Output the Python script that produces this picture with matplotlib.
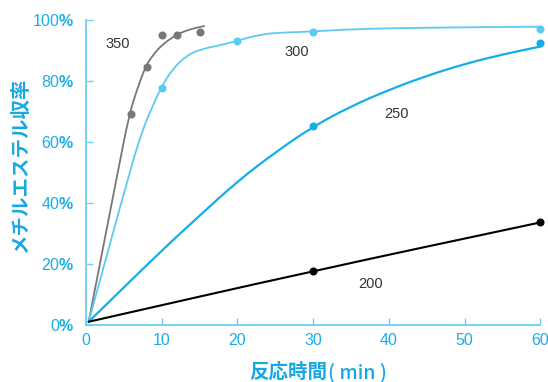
import matplotlib.pyplot as plt
from matplotlib.path import Path
from matplotlib.patches import PathPatch

plt.rcParams['mathtext.fontset'] = 'custom'
plt.rcParams['mathtext.rm'] = 'Liberation Sans'
plt.rcParams['mathtext.bf'] = 'Liberation Sans:bold'

# measured points (reaction time [min], yield [%])
pts350_x = [6, 8, 10, 12, 15]
pts350_y = [69, 84.5, 95, 95, 96]
pts300_x = [10, 20, 30, 60]
pts300_y = [77.7, 93, 96, 96.8]
pts250_x = [30, 60]
pts250_y = [65, 92.3]
pts200_x = [30, 60]
pts200_y = [17.6, 33.5]

# trend curves, control points
c350_x = [0.35, 4.26, 5.72, 6.8, 7.83, 8.8, 10.1, 11.9, 13.6, 15.6]
c350_y = [0.9, 50.8, 69.1, 77.5, 84.5, 88.3, 91.9, 95.0, 96.8, 97.9]
c300_x = [0.35, 5.85, 7.48, 8.8, 9.9, 11.4, 13.2, 15.0, 17.5, 19.9, 23.0, 26, 30, 35, 45, 60]
c300_y = [0.9, 50.8, 64.0, 71.6, 77.7, 83.7, 88.1, 90.2, 91.5, 93.0, 95.2, 95.8, 96.1, 96.9, 97.4, 97.7]
c250_x = [0.35, 10, 15, 20, 25, 30, 35, 40, 45, 50, 55, 60]
c250_y = [0.9, 24.3, 35.7, 47, 56.5, 65, 71.6, 77, 81.6, 85.5, 88.6, 91.2]
c200_x = [0.35, 30, 60]
c200_y = [0.9, 17.6, 33.5]

xticks = [0, 10, 20, 30, 40, 50, 60]
yticks = [0, 20, 40, 60, 80, 100]

AXIS = '#6dcff6'
TICK = '#1aaee8'
LABEL = '#16a8e4'


def smooth_path(xs, ys):
    # quadratic bezier through the midpoints, corners rounded at the control points
    pts = list(zip(xs, ys))
    mid = lambda a, b: ((a[0] + b[0]) / 2, (a[1] + b[1]) / 2)
    verts = [pts[0], mid(pts[0], pts[1])]
    codes = [Path.MOVETO, Path.LINETO]
    for i in range(1, len(pts) - 1):
        verts += [pts[i], mid(pts[i], pts[i + 1])]
        codes += [Path.CURVE3, Path.CURVE3]
    verts.append(pts[-1])
    codes.append(Path.LINETO)
    return Path(verts, codes)


fig = plt.figure(figsize=(5.48, 3.82), dpi=100)
ax = fig.add_axes([0.1569, 0.1505, 0.8294, 0.798])

series = [
    (c350_x, c350_y, pts350_x, pts350_y, '#777777', 1.3),
    (c300_x, c300_y, pts300_x, pts300_y, '#5ccbf3', 1.3),
    (c250_x, c250_y, pts250_x, pts250_y, '#14aee9', 1.6),
    (c200_x, c200_y, pts200_x, pts200_y, '#000000', 1.5),
]
for cx, cy, px, py, col, lw in series:
    ax.add_patch(PathPatch(smooth_path(cx, cy), fill=False, edgecolor=col, lw=lw,
                           capstyle='round', clip_on=False))
    ax.plot(px, py, 'o', color=col, ms=5.8, mec='none', clip_on=False)

for txt, x, y in [('350', 4.2, 91.9), ('300', 27.8, 89.5), ('250', 41.0, 69.1), ('200', 37.6, 13.2)]:
    ax.text(x, y, txt, ha='center', va='center', fontsize=10.5, color='#333333',
            family='Liberation Sans')

ax.set_xlim(0, 60)
ax.set_ylim(0, 100)
ax.set_xticks(xticks)
ax.set_xticklabels([str(v) for v in xticks], family='Liberation Sans')
ax.set_yticks(yticks)
ax.set_yticklabels([f'{v}' + r'$\mathbf{\%}$' for v in yticks], family='Liberation Sans')
ax.tick_params(direction='in', length=5, width=1, color=AXIS, labelcolor=TICK, labelsize=11.5)
ax.tick_params(axis='x', pad=6)
ax.tick_params(axis='y', pad=8)

for s in ['top', 'right']:
    ax.spines[s].set_visible(False)
for s in ['left', 'bottom']:
    ax.spines[s].set_color(AXIS)
    ax.spines[s].set_linewidth(1.3)

cjk = ['Noto Sans CJK JP', 'DejaVu Sans']
fig.text(0.038, 0.567, 'メチルエステル収率', rotation=90, ha='center', va='center',
         fontsize=14, fontweight='bold', color=LABEL, family=cjk)
fig.text(0.598, 0.026, '反応時間', ha='right', va='center',
         fontsize=14, fontweight='bold', color=LABEL, family=cjk)
fig.text(0.598, 0.026, '( min )', ha='left', va='center',
         fontsize=14, fontweight='medium', color=LABEL, family=cjk)

fig.savefig('out.png', dpi=100)
